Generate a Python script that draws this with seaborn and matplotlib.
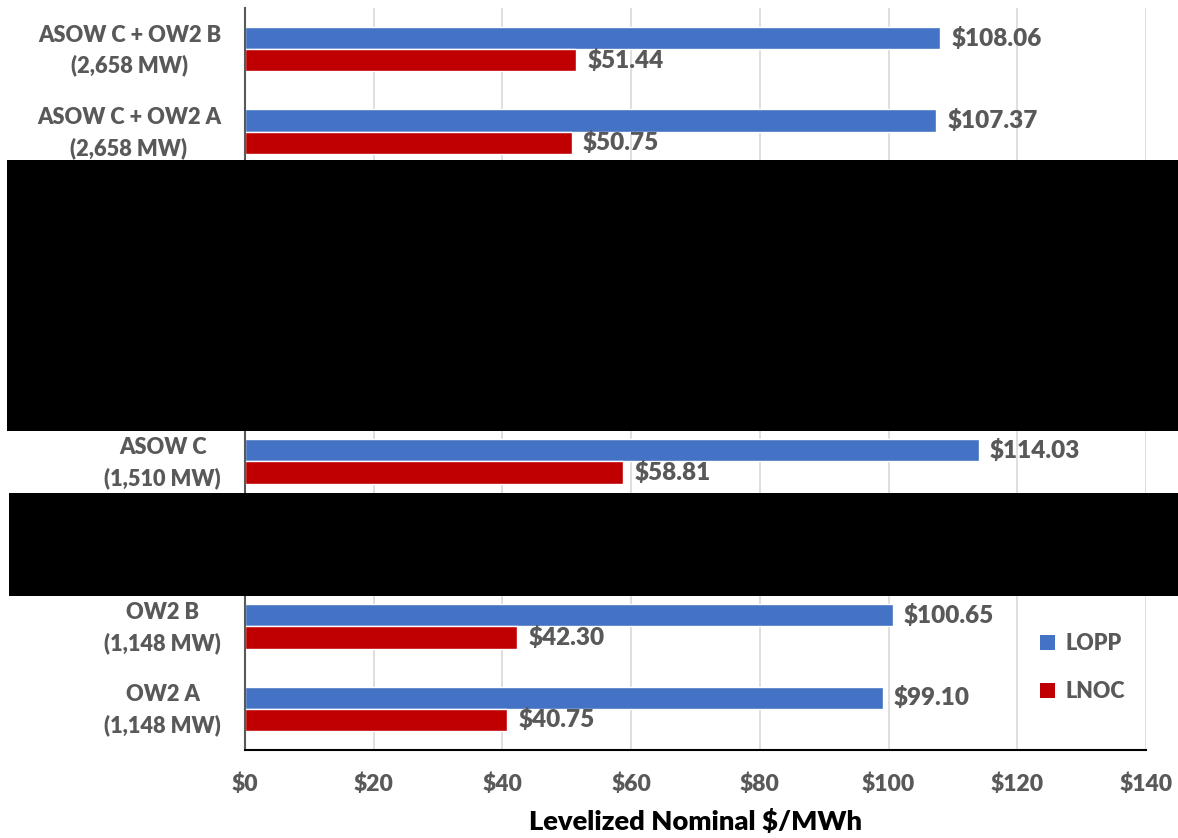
import numpy as np
import pandas as pd
import matplotlib
matplotlib.use("Agg")
import matplotlib.pyplot as plt
import matplotlib.transforms as mtransforms
from matplotlib.patches import Rectangle, Patch
import seaborn as sns

# Project cases, top to bottom (blank slots are withheld cases)
categories = [
    "ASOW C + OW2 B\n(2,658 MW)",
    "ASOW C + OW2 A\n(2,658 MW)",
    " ",
    "  ",
    "   ",
    "ASOW C\n(1,510 MW)",
    "    ",
    "OW2 B\n(1,148 MW)",
    "OW2 A\n(1,148 MW)",
]
lopp = [108.06, 107.37, np.nan, np.nan, np.nan, 114.03, np.nan, 100.65, 99.10]
lnoc = [51.44, 50.75, np.nan, np.nan, np.nan, 58.81, np.nan, 42.30, 40.75]
series = ["LOPP", "LNOC"]
colors = ["#4472C4", "#C00000"]
xticks = [0, 20, 40, 60, 80, 100, 120, 140]

df = pd.DataFrame({
    "case": categories * 2,
    "value": lopp + lnoc,
    "metric": ["LOPP"] * len(categories) + ["LNOC"] * len(categories),
})

sns.set_theme(style="white")
plt.rcParams["font.family"] = ["Lato", "DejaVu Sans"]
plt.rcParams["font.weight"] = "bold"

gray = "#595959"
fig = plt.figure(figsize=(11.78, 8.38), dpi=100)
ax = fig.add_axes([245 / 1178, 1 - 750 / 838, (1146 - 245) / 1178, 742 / 838])

sns.barplot(data=df, y="case", x="value", hue="metric", order=categories,
            hue_order=series, palette=colors, orient="h", width=0.54,
            saturation=1, errorbar=None, legend=False, ax=ax)

for cont in ax.containers:
    labels = [("" if np.isnan(b.get_width()) or b.get_width() == 0
               else f"${b.get_width():.2f}") for b in cont]
    texts = ax.bar_label(cont, labels=labels, padding=8, fontsize=17.5, color=gray)
    for t in texts:
        t.set_fontweight("heavy")

ax.set_xlim(0, 140)
ax.set_xticks(xticks)
ax.set_xticklabels([f"${t}" for t in xticks], fontsize=16.5, fontweight="heavy", color=gray)

# Case labels: two centred lines, right-aligned against the axis
ypos = ax.get_yticks()
ax.set_yticklabels([])
label_tf = mtransforms.blended_transform_factory(ax.transAxes, ax.transData) + \
    mtransforms.ScaledTranslation(-24 / 100, -1.5 / 100, fig.dpi_scale_trans)
for y, name in zip(ypos, categories):
    ax.text(0, y, name, transform=label_tf, ha="right", va="center",
            multialignment="center", linespacing=1.5, fontsize=15.7,
            fontweight="heavy", color=gray)

ax.tick_params(axis="both", length=0)
ax.tick_params(axis="x", pad=17)
ax.set_ylabel("")
ax.set_xlabel("Levelized Nominal $/MWh", fontsize=19.7, fontweight="heavy",
              color="black", labelpad=10)

ax.grid(axis="x", color="#D9D9D9", linewidth=1.2)
ax.set_axisbelow(True)
for s in ["top", "right"]:
    ax.spines[s].set_visible(False)
ax.spines["left"].set_color(gray)
ax.spines["left"].set_linewidth(1.5)
ax.spines["bottom"].set_color("black")
ax.spines["bottom"].set_linewidth(1.5)

handles = [Patch(facecolor=c, edgecolor="none") for c in colors]
leg = ax.legend(handles, series, loc="center left", bbox_to_anchor=(0.861, 0.111),
                frameon=False, handlelength=0.7, handleheight=0.7,
                labelspacing=1.25, handletextpad=0.5,
                prop={"family": "Lato", "weight": "heavy", "size": 15.5})
for t in leg.get_texts():
    t.set_color(gray)

# Withheld cases are blacked out
fig.patches.append(Rectangle((7 / 1178, 1 - 431 / 838), (1178 - 7) / 1178, 271 / 838,
                             transform=fig.transFigure, facecolor="black",
                             edgecolor="none", zorder=10))
fig.patches.append(Rectangle((9 / 1178, 1 - 596 / 838), (1178 - 9) / 1178, 103 / 838,
                             transform=fig.transFigure, facecolor="black",
                             edgecolor="none", zorder=10))

fig.savefig("out.png", dpi=100)
